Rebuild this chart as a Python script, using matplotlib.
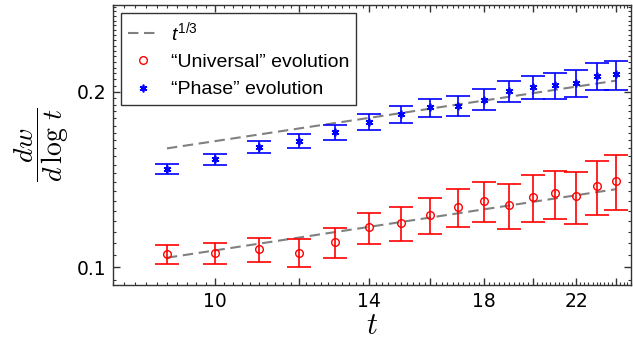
import matplotlib.pyplot as plt
import numpy as np
from matplotlib.ticker import FixedLocator, FixedFormatter, NullFormatter

# Data
t = [9, 10, 11, 12, 13, 14, 15, 16, 17, 18, 19, 20, 21, 22, 23, 24]

universal = [0.1053, 0.1057, 0.1073, 0.1059, 0.1103, 0.1170, 0.1189, 0.1228,
             0.1270, 0.1298, 0.1278, 0.1321, 0.1339, 0.1324, 0.1378, 0.1407]
universal_lo = [0.1012, 0.1012, 0.1020, 0.0999, 0.1038, 0.1095, 0.1109, 0.1141,
                0.1173, 0.1194, 0.1164, 0.1196, 0.1209, 0.1186, 0.1230, 0.1252]
universal_hi = [0.1090, 0.1102, 0.1124, 0.1116, 0.1168, 0.1240, 0.1266, 0.1315,
                0.1363, 0.1400, 0.1390, 0.1439, 0.1464, 0.1458, 0.1521, 0.1559]

phase = [0.1472, 0.1533, 0.1609, 0.1648, 0.1703, 0.1776, 0.1829, 0.1880,
         0.1892, 0.1938, 0.2008, 0.2037, 0.2051, 0.2070, 0.2128, 0.2142]
phase_lo = [0.1445, 0.1499, 0.1570, 0.1601, 0.1652, 0.1721, 0.1765, 0.1812,
            0.1817, 0.1858, 0.1918, 0.1943, 0.1945, 0.1961, 0.2013, 0.2016]
phase_hi = [0.1505, 0.1565, 0.1648, 0.1692, 0.1753, 0.1833, 0.1888, 0.1945,
            0.1966, 0.2019, 0.2089, 0.2131, 0.2151, 0.2177, 0.2243, 0.2258]

# dashed guide lines (end points)
fit_t = [9, 24]
fit_universal = [0.1038, 0.1361]
fit_phase = [0.1599, 0.2090]

plt.rcParams['mathtext.fontset'] = 'custom'
plt.rcParams['mathtext.rm'] = 'Liberation Sans'
plt.rcParams['mathtext.it'] = 'Liberation Sans:italic'

fig = plt.figure(figsize=(6.33, 3.48), dpi=100)
ax = fig.add_axes([113 / 633, 1 - 285 / 348, 518 / 633, 280 / 348])
ax.set_xscale('log')
ax.set_yscale('log')

dash = dict(color='#808080', lw=1.5, dashes=(5, 2.7), zorder=1)
ax.plot(fit_t, fit_phase, **dash)
h_fit, = ax.plot(fit_t, fit_universal, **dash)

u = np.array(universal)
p = np.array(phase)
u_err = [u - np.array(universal_lo), np.array(universal_hi) - u]
p_err = [p - np.array(phase_lo), np.array(phase_hi) - p]

bar = dict(fmt='none', elinewidth=1.2, capsize=8.8, capthick=1.2, zorder=3)
ax.errorbar(t, u, yerr=u_err, ecolor='red', **bar)
ax.errorbar(t, p, yerr=p_err, ecolor='blue', **bar)
h_u, = ax.plot(t, u, ls='none', marker='o', mfc='none', mec='red',
               ms=5.5, mew=1.0, zorder=4)
h_p, = ax.plot(t, p, ls='none', marker=(6, 2, 0), color='blue', ms=5.5, mew=1.2,
               zorder=4)

ax.set_xlim(8.0, 24.8)
ax.set_ylim(0.0932, 0.2818)

ax.xaxis.set_major_locator(FixedLocator([10, 12, 14, 16, 18, 20, 22, 24]))
ax.xaxis.set_major_formatter(FixedFormatter(['10', '', '14', '', '18', '', '22', '']))
ax.xaxis.set_minor_locator(FixedLocator(np.arange(8, 25, 0.2)))
ax.xaxis.set_minor_formatter(NullFormatter())
ax.yaxis.set_major_locator(FixedLocator([0.1, 0.2]))
ax.yaxis.set_major_formatter(FixedFormatter(['0.1', '0.2']))
ax.yaxis.set_minor_locator(FixedLocator(np.arange(0.095, 0.285, 0.005)))
ax.yaxis.set_minor_formatter(NullFormatter())

ax.tick_params(which='both', direction='in', top=True, right=True, color='#333333')
ax.tick_params(which='major', length=5, width=1.0, labelsize=13.5, pad=5)
ax.tick_params(which='minor', length=2.5, width=0.8)
for s in ax.spines.values():
    s.set_color('#333333')
    s.set_linewidth(1.0)

ax.set_xlabel(r'$t$', fontsize=22, math_fontfamily='cm', labelpad=0)
ax.set_ylabel(r'$\dfrac{dw}{d\,\log\,t}$', fontsize=20, math_fontfamily='cm', labelpad=4)

leg = ax.legend([h_fit, h_u, h_p],
                [r'$t^{1/3}$', '\u201cUniversal\u201d evolution', '\u201cPhase\u201d evolution'],
                loc='upper left',
                bbox_to_anchor=(121 / 633, 1 - 13 / 348), bbox_transform=fig.transFigure,
                borderaxespad=0, fancybox=False, edgecolor='#333333', framealpha=1,
                prop={'family': 'Liberation Sans', 'size': 14}, handlelength=1.6,
                handletextpad=0.6, labelspacing=0.5, borderpad=0.35)
leg.get_frame().set_linewidth(1.0)
for txt in leg.get_texts():
    txt.set_math_fontfamily('custom')

fig.savefig('out.png', dpi=100)
